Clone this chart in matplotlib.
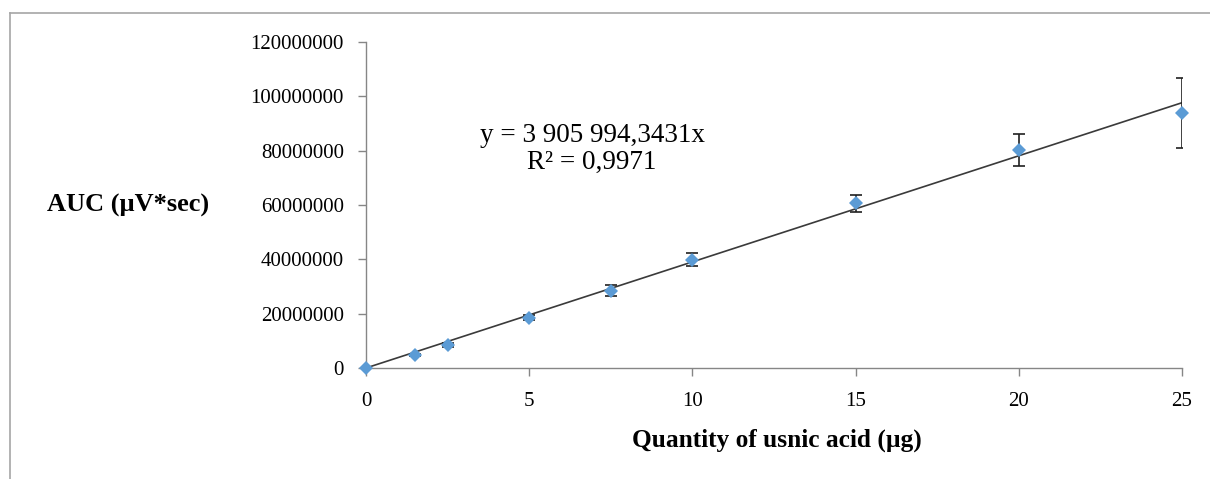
import matplotlib
matplotlib.use("Agg")
import matplotlib.pyplot as plt
from matplotlib.lines import Line2D
from matplotlib.ticker import FuncFormatter

# usnic acid calibration data
quantity = [0, 1.5, 2.5, 5, 7.5, 10, 15, 20, 25]
auc = [0, 4.8e6, 8.5e6, 18.5e6, 28.5e6, 39.9e6, 60.6e6, 80.4e6, 93.8e6]
auc_err = [0, 0.4e6, 0.6e6, 0.9e6, 2.1e6, 2.3e6, 3.0e6, 5.9e6, 13.0e6]
slope = 3905994.3431
r2_text = "R² = 0,9971"
eq_text = "y = 3 905 994,3431x"
x_ticks = [0, 5, 10, 15, 20, 25]
y_ticks = [0, 20000000, 40000000, 60000000, 80000000, 100000000, 120000000]

plt.rcParams['font.family'] = ['Liberation Serif', 'DejaVu Serif']

fig = plt.figure(figsize=(12.1, 4.79), dpi=100)
ax = fig.add_axes([366/1210, 1 - 368/479, (1182 - 366)/1210, (368 - 42)/479])

# outer chart frame (only top and left edges show)
frame_col = '#a6a6a6'
fig.add_artist(Line2D([10/1210, 1], [1 - 13/479, 1 - 13/479], color=frame_col, lw=1.2, transform=fig.transFigure))
fig.add_artist(Line2D([10/1210, 10/1210], [1 - 13/479, 0], color=frame_col, lw=1.2, transform=fig.transFigure))

# trendline through origin
ax.plot([0, 25], [0, slope * 25], color='#3a3a3a', lw=1.2, zorder=2)

# points with error bars
ax.errorbar(quantity, auc, yerr=auc_err, fmt='none', ecolor='#202020', elinewidth=1.2,
            capsize=4.5, capthick=1.2, zorder=3)
ax.plot(quantity, auc, 'D', color='#5b9bd5', markersize=7, markeredgewidth=0,
        zorder=4, clip_on=False)

ax.set_xlim(0, 25)
ax.set_ylim(0, 120000000)
ax.set_xticks(x_ticks)
ax.set_yticks(y_ticks)
ax.yaxis.set_major_formatter(FuncFormatter(lambda v, p: f"{int(v)}"))

for side in ['top', 'right']:
    ax.spines[side].set_visible(False)
for side in ['left', 'bottom']:
    ax.spines[side].set_color('#868686')
    ax.spines[side].set_linewidth(1.0)
ax.tick_params(axis='both', direction='out', length=6, width=1.0, color='#868686',
               labelsize=15, labelcolor='black')
ax.tick_params(axis='y', pad=10)
ax.tick_params(axis='x', pad=11)

ax.text(592/1210, 1 - 149/479, eq_text + "\n" + r2_text, transform=fig.transFigure,
        ha='center', va='center', fontsize=19.5, linespacing=1.12)

fig.text(128/1210, 1 - 205/479, "AUC (µV*sec)", ha='center', va='center',
         fontsize=19, fontweight='bold')
fig.text(777/1210, 1 - 440/479, "Quantity of usnic acid (µg)", ha='center', va='center',
         fontsize=18.3, fontweight='bold')

fig.savefig("out.png", dpi=100)
